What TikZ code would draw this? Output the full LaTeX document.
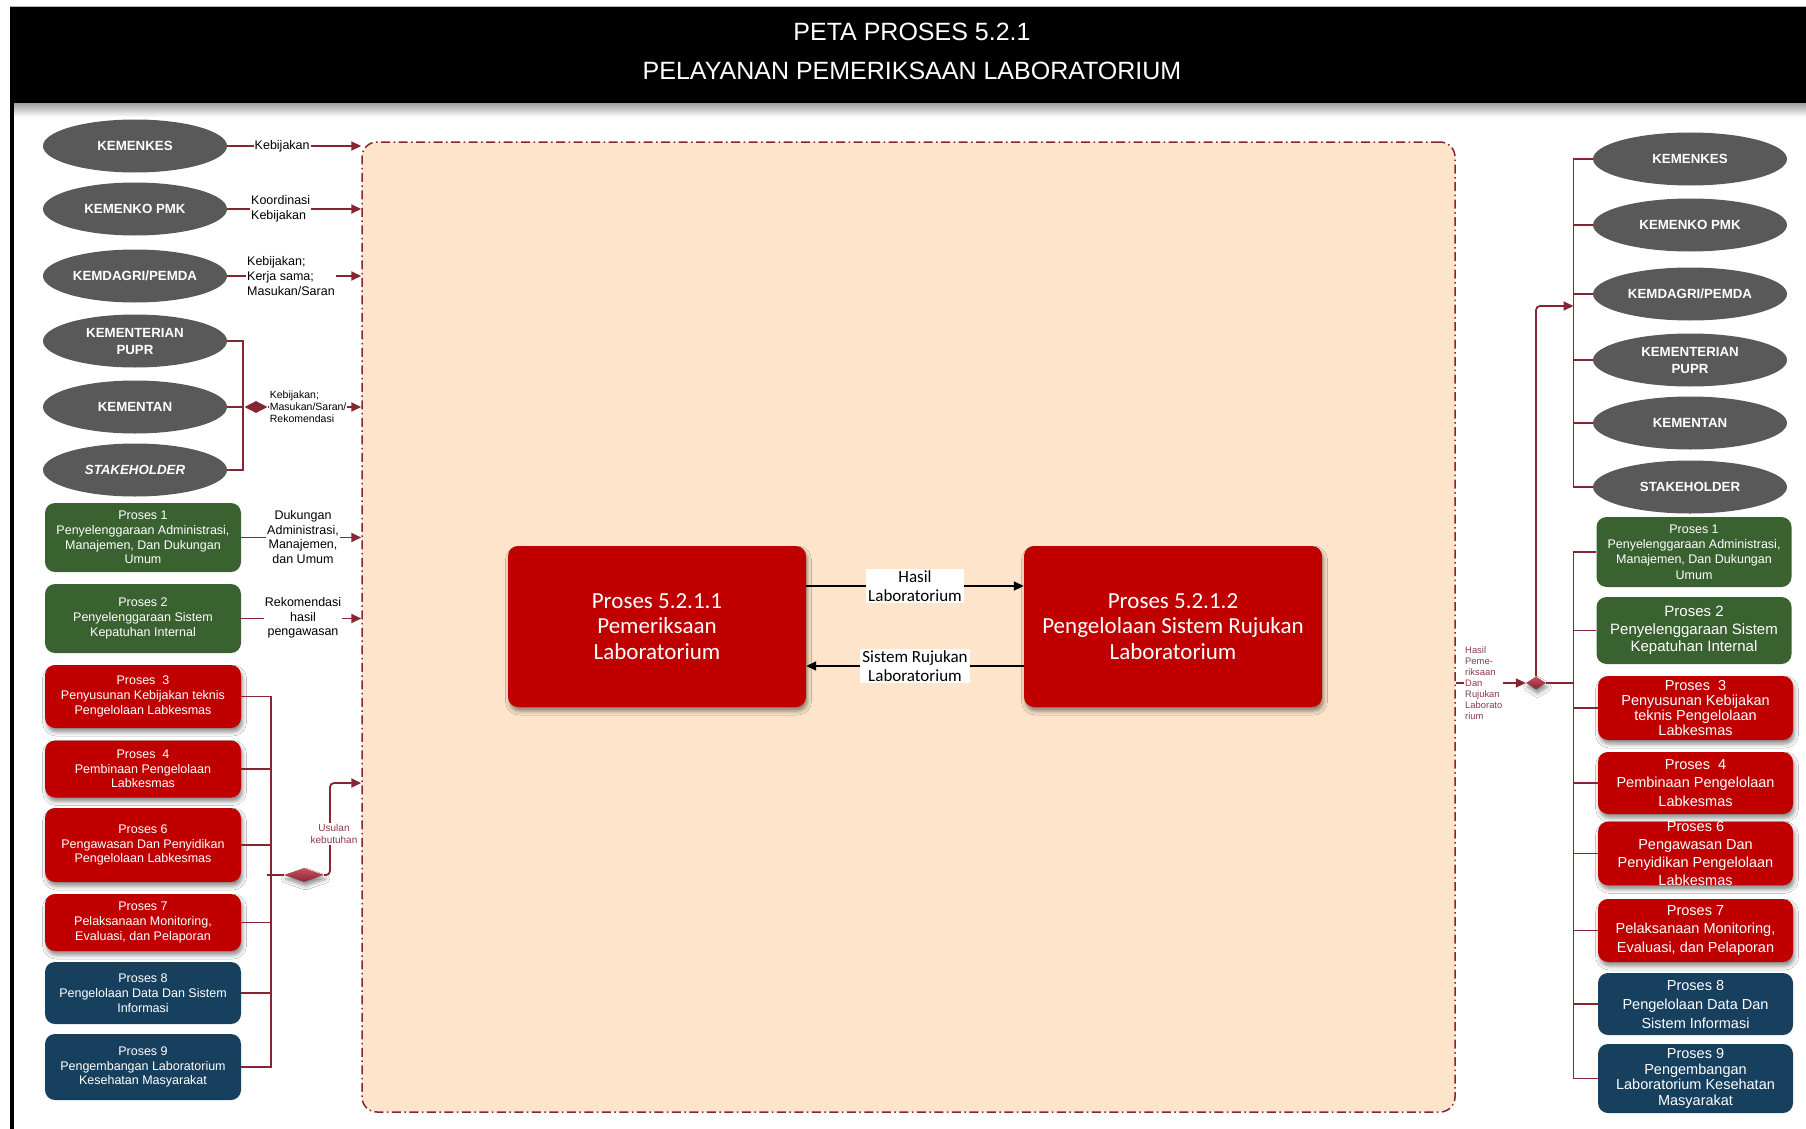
\documentclass[tikz,border=0pt]{standalone}
\usepackage{fontspec}
\setmainfont{Liberation Sans}
\newfontfamily\calfont{Carlito}
\usetikzlibrary{shapes.geometric,arrows.meta,shadows.blur}

\definecolor{linkred}{HTML}{862633}
\definecolor{peach}{HTML}{FDE4CA}
\definecolor{ellgrey}{HTML}{595959}
\definecolor{procgreen}{HTML}{3A6130}
\definecolor{procred}{HTML}{C00000}
\definecolor{procblue}{HTML}{17405E}
\definecolor{lblred}{HTML}{8B3A4A}
\definecolor{diatop}{HTML}{C9505F}

\newcommand\setfs[2]{\fontsize{#1pt}{#2pt}\selectfont}

\tikzset{
  ell/.style={ellipse, fill=ellgrey, text=white, inner sep=0pt,
    minimum height=53pt, align=center, font=\setfs{13.3}{17}\bfseries},
  lell/.style={ell, minimum width=184pt},
  rell/.style={ell, minimum width=194pt},
  proc/.style={rectangle, rounded corners=10pt, text=white, inner sep=0pt, align=center},
  lproc/.style={proc, minimum width=196pt, font=\setfs{12.5}{14.7}},
  rproc/.style={proc, minimum width=195pt, font=\setfs{14.5}{17.5}},
  shd/.style={blur shadow={shadow xshift=1.5pt, shadow yshift=-4pt,
    shadow blur radius=4pt, shadow opacity=45}},
  green/.style={fill=procgreen},
  red/.style={fill=procred, shd},
  blue/.style={fill=procblue},
  link/.style={draw=linkred, line width=1.8pt},
  linkarr/.style={link, -{Triangle[length=10pt,width=9pt]}},
  blkarr/.style={draw=black, line width=1.8pt, -{Triangle[length=10pt,width=9pt]}},
  lbl/.style={fill=white, inner sep=1pt, font=\setfs{12.5}{14.6}},
  smalllbl/.style={fill=white, inner sep=1pt, align=left, font=\setfs{10.5}{12}},
  midlbl/.style={fill=white, inner sep=2pt, align=center, font=\calfont\setfs{17}{19}},
  corebox/.style={rectangle, rounded corners=15pt, fill=peach, draw=linkred,
    line width=1.5pt, dash pattern=on 9pt off 3.5pt on 1.5pt off 3.5pt,
    minimum width=1093pt, minimum height=970pt},
  subproc/.style={rectangle, rounded corners=10pt, fill=procred, text=white,
    minimum width=298pt, minimum height=161pt, align=center, shd,
    font=\calfont\setfs{23}{25.5}},
  junction/.style={diamond, inner sep=0pt, draw=none},
  title/.style={text=white, font=\setfs{25}{28}}
}

\begin{document}
\begin{tikzpicture}[x=1pt, y=-1pt]
  \useasboundingbox (0,0) rectangle (1806,1129);
  \fill[white] (0,0) rectangle (1806,1129);

  % header band, its shadow and the left rule
  \shade[top color=gray!75, bottom color=white] (10,103) rectangle (1806,117);
  \fill[black] (10,7) rectangle (1806,103);
  \draw[gray!60, line width=1pt] (10,6.5) -- (1806,6.5);
  \fill[black] (10,103) rectangle (13.5,1129);
  \node[title] (t1) at (912,32) {PETA PROSES 5.2.1};
  \node[title] (t2) at (912,71) {PELAYANAN PEMERIKSAAN LABORATORIUM};

  % central process area
  \node[corebox] (core) at (908.5,627) {};

  % sub-processes
  \node[subproc] (c1) at (657,626.5) {Proses 5.2.1.1\\Pemeriksaan\\Laboratorium};
  \node[subproc] (c2) at (1173,626.5) {Proses 5.2.1.2\\Pengelolaan Sistem Rujukan\\Laboratorium};
  \draw[blkarr] ([yshift=40.5pt]c1.east) -- ([yshift=40.5pt]c2.west)
    node[midlbl, midway] (m1) {Hasil\\Laboratorium};
  \draw[blkarr] ([yshift=-39.5pt]c2.west) -- ([yshift=-39.5pt]c1.east)
    node[midlbl, midway] (m2) {Sistem Rujukan\\Laboratorium};

  % left stakeholders
  \node[lell] (le1) at (135,146) {KEMENKES};
  \node[lell] (le2) at (135,209) {KEMENKO PMK};
  \node[lell] (le3) at (135,276) {KEMDAGRI/PEMDA};
  \node[lell] (le4) at (135,341) {KEMENTERIAN\\PUPR};
  \node[lell] (le5) at (135,407) {KEMENTAN};
  \node[lell] (le6) at (135,470) {\itshape STAKEHOLDER};

  \draw[linkarr] (le1.east) -- (le1.east -| core.west)
    node[lbl, pos=0.41] (k1) {Kebijakan};
  \draw[linkarr] (le2.east) -- (le2.east -| core.west);
  \node[lbl, anchor=west, align=left] (k2) at (250,209) {Koordinasi\\Kebijakan};
  \draw[linkarr] (le3.east) -- (le3.east -| core.west);
  \node[lbl, anchor=west, align=left] (k3) at (246,276) {Kebijakan;\\Kerja sama;\\Masukan/Saran};

  \coordinate (lbarA) at (243,0);
  \draw[link] (le4.east) -| (lbarA |- le6.east) -- (le6.east);
  \node[junction, fill=linkred, minimum width=23pt, minimum height=12pt] (ld1) at (256,407) {};
  \draw[link] (le5.east) -- (ld1.west);
  \draw[linkarr] (ld1.east) -- (ld1.east -| core.west);
  \node[smalllbl, anchor=west] (k5) at ([xshift=1pt]ld1.east) {Kebijakan;\\Masukan/Saran/\\Rekomendasi};

  % left supporting processes
  \node[lproc, green, minimum height=69pt] (lp1) at (143,537.5)
    {Proses 1\\Penyelenggaraan Administrasi,\\Manajemen, Dan Dukungan\\Umum};
  \node[lproc, green, minimum height=69pt] (lp2) at (143,618.5)
    {Proses 2\\Penyelenggaraan Sistem\\Kepatuhan Internal};
  \node[lproc, red, minimum height=63pt] (lp3) at (143,696.5)
    {Proses~~3\\Penyusunan Kebijakan teknis\\Pengelolaan Labkesmas};
  \node[lproc, red, minimum height=57pt] (lp4) at (143,769)
    {Proses~~4\\Pembinaan Pengelolaan\\Labkesmas};
  \node[lproc, red, minimum height=74pt] (lp6) at (143,845)
    {Proses 6\\Pengawasan Dan Penyidikan\\Pengelolaan Labkesmas};
  \node[lproc, red, minimum height=57pt] (lp7) at (143,922.5)
    {Proses 7\\Pelaksanaan Monitoring,\\Evaluasi, dan Pelaporan};
  \node[lproc, blue, minimum height=62pt] (lp8) at (143,993)
    {Proses 8\\Pengelolaan Data Dan Sistem\\Informasi};
  \node[lproc, blue, minimum height=66pt] (lp9) at (143,1067)
    {Proses 9\\Pengembangan Laboratorium\\Kesehatan Masyarakat};

  \draw[linkarr] (lp1.east) -- (lp1.east -| core.west);
  \node[lbl, align=center] (d1) at (303,537) {Dukungan\\Administrasi,\\Manajemen,\\dan Umum};
  \draw[linkarr] (lp2.east) -- (lp2.east -| core.west);
  \node[lbl, align=center] (d2) at (303,618) {Rekomendasi\\hasil\\pengawasan};

  \coordinate (lbarB) at (271,0);
  \draw[link] (lp3.east) -| (lbarB |- lp9.east) -- (lp9.east);
  \foreach \p in {lp4,lp6,lp7,lp8} \draw[link] (\p.east) -- (\p.east -| lbarB);
  \node[junction, top color=diatop, bottom color=linkred, shd,
    minimum width=40pt, minimum height=14pt] (ld2) at (304,875) {};
  \draw[link] ([xshift=-4pt]lbarB |- ld2.west) -- (ld2.west);
  \coordinate (usul) at (330,783);
  \draw[linkarr, rounded corners=4pt] (ld2.east) -| (usul) -- (usul -| core.west);
  \node[fill=white, inner sep=1pt, align=center, text=lblred,
    font=\setfs{10}{12}] (u1) at (334,834) {Usulan\\kebutuhan};

  % right stakeholders
  \node[rell] (re1) at (1690,159) {KEMENKES};
  \node[rell] (re2) at (1690,225) {KEMENKO PMK};
  \node[rell] (re3) at (1690,294) {KEMDAGRI/PEMDA};
  \node[rell] (re4) at (1690,360) {KEMENTERIAN\\PUPR};
  \node[rell] (re5) at (1690,423) {KEMENTAN};
  \node[rell] (re6) at (1690,487) {STAKEHOLDER};

  % right supporting processes
  \node[rproc, green, minimum height=70pt, font=\setfs{12.5}{15.3}] (rp1) at (1694,552)
    {Proses 1\\Penyelenggaraan Administrasi,\\Manajemen, Dan Dukungan\\Umum};
  \node[rproc, green, minimum height=67pt, font=\setfs{15}{17.5}] (rp2) at (1694,630.5)
    {Proses 2\\Penyelenggaraan Sistem\\Kepatuhan Internal};
  \node[rproc, red, minimum height=64pt, font=\setfs{14.5}{15}] (rp3) at (1695.5,708)
    {Proses~~3\\Penyusunan Kebijakan\\teknis Pengelolaan\\Labkesmas};
  \node[rproc, red, minimum height=62pt, font=\setfs{14.5}{18.5}] (rp4) at (1695.5,783)
    {Proses~~4\\Pembinaan Pengelolaan\\Labkesmas};
  \node[rproc, red, minimum height=63pt, font=\setfs{14.5}{17.8}] (rp6) at (1695.5,853.5)
    {Proses 6\\Pengawasan Dan\\Penyidikan Pengelolaan\\Labkesmas};
  \node[rproc, red, minimum height=63pt, font=\setfs{14.5}{18.5}] (rp7) at (1695.5,930.5)
    {Proses 7\\Pelaksanaan Monitoring,\\Evaluasi, dan Pelaporan};
  \node[rproc, blue, minimum height=62pt, font=\setfs{14.5}{19}] (rp8) at (1695.5,1004)
    {Proses 8\\Pengelolaan Data Dan\\Sistem Informasi};
  \node[rproc, blue, minimum height=69pt, font=\setfs{14.5}{15.7}] (rp9) at (1695.5,1078.5)
    {Proses 9\\Pengembangan\\Laboratorium Kesehatan\\Masyarakat};

  % right distribution
  \coordinate (rbar) at (1573.5,0);
  \draw[link] (re1.west) -| (rbar |- re6.west) -- (re6.west);
  \foreach \e in {re2,re3,re4,re5} \draw[link] (\e.west) -- (\e.west -| rbar);
  \draw[link] (rp1.west) -| (rbar |- rp9.west) -- (rp9.west);
  \foreach \p in {rp2,rp3,rp4,rp6,rp7,rp8} \draw[link] (\p.west) -- (\p.west -| rbar);

  \node[junction, top color=diatop, bottom color=linkred, shd,
    minimum width=20pt, minimum height=13pt] (rd) at (1536,683) {};
  \draw[link] (rd.east) -- (rd.east -| rbar);
  \coordinate (rup) at (1536,306);
  \draw[linkarr, rounded corners=4pt] (rd.north) -- (rup) -- (rup -| rbar);
  \draw[linkarr] (core.east |- rd.west) -- (rd.west);
  \node[fill=white, inner sep=1pt, anchor=west, align=left, text=lblred,
    font=\setfs{9.4}{11}] (h1) at (1464,683)
    {Hasil\\Peme-\\riksaan\\Dan\\Rujukan\\Laborato\\rium};
\end{tikzpicture}
\end{document}
